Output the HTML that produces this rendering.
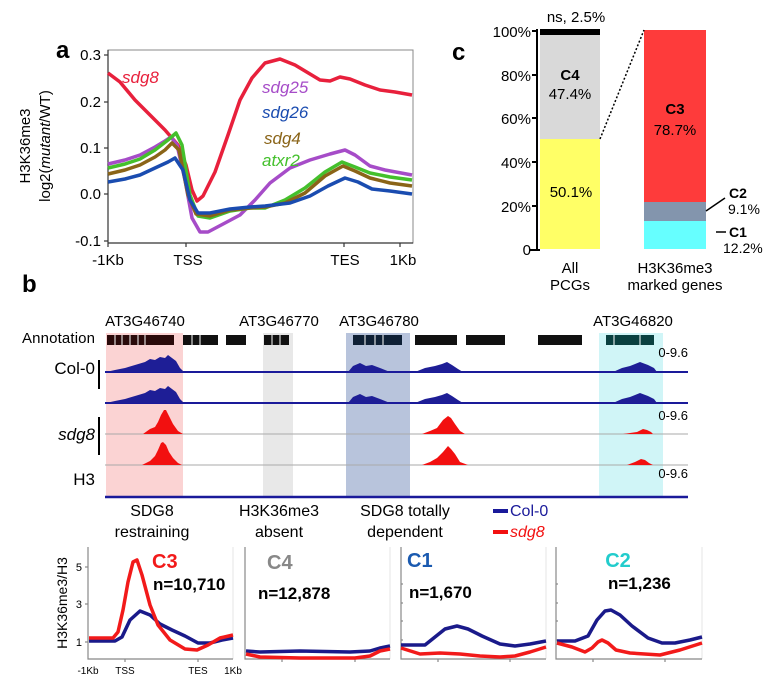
<!DOCTYPE html>
<html><head><meta charset="utf-8"><style>
html,body{margin:0;padding:0;background:#fff;}
svg{display:block;font-family:"Liberation Sans",Arial,sans-serif;}
</style></head><body>
<svg width="783" height="693" viewBox="0 0 783 693" xmlns="http://www.w3.org/2000/svg">
<rect width="783" height="693" fill="#fff"/>
<!-- Panel a -->
<text x="56" y="58" font-size="24" font-weight="bold">a</text>
<text transform="translate(30,146) rotate(-90)" font-size="15" text-anchor="middle">H3K36me3</text>
<text transform="translate(50,146) rotate(-90)" font-size="15" text-anchor="middle">log2(<tspan font-style="italic">mutant</tspan>/WT)</text>
<rect x="108" y="50" width="305" height="193" fill="none" stroke="#888" stroke-width="1"/>
<g stroke="#333" stroke-width="1.2">
<line x1="108" y1="50" x2="108" y2="243"/><line x1="108" y1="243" x2="413" y2="243"/>
<line x1="104" y1="55" x2="108" y2="55"/><line x1="104" y1="102" x2="108" y2="102"/><line x1="104" y1="148" x2="108" y2="148"/><line x1="104" y1="194" x2="108" y2="194"/><line x1="104" y1="241" x2="108" y2="241"/>
<line x1="108" y1="243" x2="108" y2="247"/><line x1="186" y1="243" x2="186" y2="247"/><line x1="344" y1="243" x2="344" y2="247"/><line x1="400" y1="243" x2="400" y2="247"/>
</g>
<g font-size="15" text-anchor="end">
<text x="101" y="60">0.3</text><text x="101" y="107">0.2</text><text x="101" y="153">0.1</text><text x="101" y="199">0.0</text><text x="101" y="246">-0.1</text>
</g>
<g font-size="15" text-anchor="middle">
<text x="108" y="265">-1Kb</text><text x="188" y="265">TSS</text><text x="345" y="265">TES</text><text x="403" y="265">1Kb</text>
</g>
<g fill="none" stroke-width="3.5" stroke-linejoin="round">
<path stroke="#e8203c" d="M108,73 L120,82 L135,100 L150,115 L165,130 L178,145 L186,165 L192,190 L197,201 L203,196 L215,172 L228,135 L240,100 L252,78 L265,63 L280,59 L295,65 L310,74 L320,80 L330,81 L340,77 L350,79 L365,85 L380,90 L395,92 L412,95"/>
<path stroke="#a64cc8" d="M108,164 L125,160 L140,155 L155,147 L165,141 L171,137 L177,145 L185,180 L192,218 L200,232 L208,232 L225,223 L240,215 L255,200 L270,183 L290,168 L310,160 L330,154 L345,150 L355,155 L370,166 L385,170 L412,175"/>
<path stroke="#44c02c" d="M108,168 L125,164 L140,159 L155,150 L168,140 L176,133 L182,145 L190,195 L198,216 L210,218 L230,211 L250,208 L265,208 L285,200 L305,188 L325,172 L342,162 L355,167 L370,173 L390,177 L412,180"/>
<path stroke="#8a6418" d="M108,174 L125,170 L140,165 L155,157 L165,150 L172,143 L179,150 L188,195 L196,214 L210,216 L230,210 L250,208 L265,207 L285,203 L305,193 L325,176 L343,166 L355,171 L370,178 L390,183 L412,186"/>
<path stroke="#1a4cb0" d="M108,182 L125,179 L140,175 L155,168 L168,162 L175,158 L183,170 L190,200 L198,213 L210,213 L230,209 L250,207 L265,206 L290,203 L310,196 L328,186 L345,178 L358,182 L372,189 L390,191 L412,194"/>
</g>
<g font-size="17" font-style="italic">
<text x="122" y="83" fill="#e8203c">sdg8</text>
<text x="262" y="93" fill="#a64cc8">sdg25</text>
<text x="262" y="118" fill="#1a4cb0">sdg26</text>
<text x="264" y="144" fill="#8a6418">sdg4</text>
<text x="262" y="166" fill="#44c02c">atxr2</text>
</g>
<!-- Panel c -->
<text x="452" y="60" font-size="24" font-weight="bold">c</text>
<rect x="540" y="139" width="60" height="110" fill="#ffff66"/>
<rect x="540" y="34" width="60" height="105" fill="#d9d9d9"/>
<rect x="540" y="29" width="60" height="6" fill="#000"/>
<rect x="644" y="221" width="62" height="28" fill="#66ffff"/>
<rect x="644" y="202" width="62" height="19" fill="#8395ad"/>
<rect x="644" y="30" width="62" height="172" fill="#fe3b3b"/>
<line x1="600" y1="139" x2="644" y2="30" stroke="#000" stroke-width="1.5" stroke-dasharray="2,2"/>
<g stroke="#000" stroke-width="2">
<line x1="537" y1="29" x2="537" y2="250"/><line x1="530" y1="250" x2="540" y2="250"/>
<line x1="532" y1="31" x2="537" y2="31"/><line x1="532" y1="75" x2="537" y2="75"/><line x1="532" y1="118" x2="537" y2="118"/><line x1="532" y1="162" x2="537" y2="162"/><line x1="532" y1="206" x2="537" y2="206"/>
<line x1="706" y1="211" x2="725" y2="198" stroke-width="1.5"/><line x1="716" y1="232" x2="726" y2="232" stroke-width="1.5"/>
</g>
<g font-size="15" text-anchor="end">
<text x="531" y="37">100%</text><text x="531" y="81">80%</text><text x="531" y="124">60%</text><text x="531" y="168">40%</text><text x="531" y="212">20%</text><text x="531" y="255">0</text>
</g>
<g font-size="15" text-anchor="middle">
<text x="576" y="22">ns, 2.5%</text>
<text x="570" y="80" font-weight="bold">C4</text><text x="570" y="99">47.4%</text>
<text x="571" y="197">50.1%</text>
<text x="675" y="114" font-weight="bold">C3</text><text x="675" y="135">78.7%</text>
<text x="570" y="273">All</text><text x="570" y="290">PCGs</text>
<text x="675" y="273">H3K36me3</text><text x="675" y="290">marked genes</text>
</g>
<g font-size="14">
<text x="729" y="198" font-weight="bold">C2</text><text x="728" y="214">9.1%</text>
<text x="729" y="237" font-weight="bold">C1</text><text x="723" y="253">12.2%</text>
</g>
<!-- Panel b -->
<text x="22" y="292" font-size="24" font-weight="bold">b</text>
<rect x="106" y="333" width="77" height="164" fill="#fbd3d3"/>
<rect x="263" y="333" width="30" height="164" fill="#e8e8e8"/>
<rect x="346" y="333" width="64" height="164" fill="#b8c4dc"/>
<rect x="599" y="333" width="64" height="164" fill="#d0f5f7"/>
<g font-size="15" text-anchor="middle">
<text x="145" y="326">AT3G46740</text><text x="279" y="326">AT3G46770</text><text x="379" y="326">AT3G46780</text><text x="633" y="326">AT3G46820</text>
</g>
<text x="22" y="343" font-size="15" textLength="73">Annotation</text>
<g fill="#111">
<rect x="107" y="335" width="67" height="10" fill="#2a0a0a"/>
<rect x="183" y="335" width="35" height="10"/>
<rect x="226" y="335" width="20" height="10"/>
<rect x="264" y="335" width="25" height="10"/>
<rect x="353" y="335" width="49" height="10" fill="#0f2035"/>
<rect x="415" y="335" width="42" height="10"/>
<rect x="466" y="335" width="39" height="10"/>
<rect x="538" y="335" width="44" height="10"/>
<rect x="606" y="335" width="48" height="10" fill="#0a4040"/>
</g>
<g stroke="#fff" stroke-width="1">
<line x1="115" y1="335" x2="115" y2="345"/><line x1="122" y1="335" x2="122" y2="345"/><line x1="130" y1="335" x2="130" y2="345"/><line x1="138" y1="335" x2="138" y2="345"/><line x1="145" y1="335" x2="145" y2="345"/>
<line x1="192" y1="335" x2="192" y2="345"/><line x1="200" y1="335" x2="200" y2="345"/><line x1="272" y1="335" x2="272" y2="345"/><line x1="280" y1="335" x2="280" y2="345"/>
<line x1="365" y1="335" x2="365" y2="345"/><line x1="375" y1="335" x2="375" y2="345"/><line x1="383" y1="335" x2="383" y2="345"/>
<line x1="614" y1="335" x2="614" y2="345"/><line x1="640" y1="335" x2="640" y2="345"/>
</g>
<g font-size="17" text-anchor="end">
<text x="95" y="374">Col-0</text><text x="95" y="440" font-style="italic">sdg8</text><text x="95" y="485">H3</text>
</g>
<line x1="99" y1="360" x2="99" y2="389" stroke="#000" stroke-width="2"/>
<line x1="99" y1="417" x2="99" y2="455" stroke="#000" stroke-width="2"/>
<g font-size="13" text-anchor="end"><text x="688" y="357">0-9.6</text><text x="688" y="420">0-9.6</text><text x="688" y="478">0-9.6</text></g>
<g id="col">
<line x1="105" y1="372" x2="688" y2="372" stroke="#1a1a9a" stroke-width="2"/>
<g fill="#1e1e96">
<polygon points="106,372 115,370 125,368 135,365 145,362 150,359 155,360 160,357 165,358 168,355 172,358 176,361 180,368 184,372"/>
<polygon points="348,372 353,366 360,363 366,366 372,365 380,368 390,372"/>
<polygon points="415,372 425,368 435,366 442,364 447,362 452,365 458,369 463,372"/>
<polygon points="613,372 622,368 630,366 640,362 648,365 654,368 657,372"/>
</g>
</g>
<use href="#col" transform="translate(0,31)"/>
<line x1="105" y1="434" x2="688" y2="434" stroke="#aaa" stroke-width="1"/>
<line x1="105" y1="465" x2="688" y2="465" stroke="#aaa" stroke-width="1"/>
<g fill="#f21010">
<polygon points="143,434 150,429 155,427 158,422 161,415 164,410 166,410 169,416 173,424 178,431 183,434"/>
<polygon points="422,434 430,431 437,428 443,420 448,416 451,418 455,424 460,431 465,434"/>
<polygon points="623,434 630,433 637,432 643,429 647,430 651,432 653,434"/>
<polygon points="142,465 150,461 155,456 158,450 161,443 163,442 166,445 169,452 173,458 178,463 182,465"/>
<polygon points="422,465 430,462 437,458 443,452 448,446 451,449 455,454 460,462 468,465"/>
<polygon points="627,465 635,462 641,459 645,460 649,463 653,465"/>
</g>
<line x1="105" y1="497" x2="688" y2="497" stroke="#1a1a9a" stroke-width="2.5"/>
<g font-size="16" text-anchor="middle">
<text x="152" y="516">SDG8</text><text x="152" y="537">restraining</text>
<text x="279" y="516">H3K36me3</text><text x="279" y="537">absent</text>
<text x="405" y="516">SDG8 totally</text><text x="405" y="537">dependent</text>
</g>
<line x1="493" y1="511" x2="508" y2="511" stroke="#1a1a9a" stroke-width="4"/>
<text x="510" y="516" font-size="16" fill="#1a1a9a">Col-0</text>
<line x1="493" y1="532" x2="508" y2="532" stroke="#f21010" stroke-width="4"/>
<text x="510" y="537" font-size="16" fill="#f21010" font-style="italic">sdg8</text>
<!-- bottom panels -->
<text transform="translate(67,603) rotate(-90)" font-size="14" text-anchor="middle">H3K36me3/H3</text>
<g stroke="#e4e4e4" stroke-width="1" fill="none">
<line x1="233" y1="547" x2="233" y2="659"/><line x1="390" y1="547" x2="390" y2="659"/><line x1="546" y1="547" x2="546" y2="659"/><line x1="702" y1="547" x2="702" y2="659"/>
</g>
<g stroke="#888" stroke-width="1.2" fill="none">
<path d="M88,547 V659 H233"/><path d="M245,547 V659 H390"/><path d="M401,547 V659 H546"/><path d="M556,547 V659 H702"/>
<line x1="85" y1="567" x2="88" y2="567"/><line x1="85" y1="604" x2="88" y2="604"/><line x1="85" y1="642" x2="88" y2="642"/>
<line x1="401" y1="584" x2="403" y2="584"/><line x1="401" y1="603" x2="403" y2="603"/><line x1="401" y1="621" x2="403" y2="621"/><line x1="401" y1="640" x2="403" y2="640"/>
<line x1="556" y1="584" x2="558" y2="584"/><line x1="556" y1="603" x2="558" y2="603"/><line x1="556" y1="621" x2="558" y2="621"/><line x1="556" y1="640" x2="558" y2="640"/>
<line x1="125" y1="659" x2="125" y2="662"/><line x1="198" y1="659" x2="198" y2="662"/>
<line x1="282" y1="659" x2="282" y2="662"/><line x1="355" y1="659" x2="355" y2="662"/>
<line x1="438" y1="659" x2="438" y2="662"/><line x1="510" y1="659" x2="510" y2="662"/>
<line x1="593" y1="659" x2="593" y2="662"/><line x1="665" y1="659" x2="665" y2="662"/>
</g>
<g font-size="11" text-anchor="end"><text x="82" y="571">5</text><text x="82" y="608">3</text><text x="82" y="646">1</text></g>
<g font-size="10" text-anchor="middle"><text x="88" y="674">-1Kb</text><text x="125" y="674">TSS</text><text x="198" y="674">TES</text><text x="233" y="674">1Kb</text></g>
<g fill="none" stroke-width="3.5" stroke-linejoin="round">
<path stroke="#1a1a8a" d="M89,641 L115,641 L122,637 L130,620 L140,611 L150,615 L160,624 L172,630 L185,636 L198,643 L210,643 L222,640 L233,638"/>
<path stroke="#f21a1a" d="M89,638 L113,638 L118,632 L123,610 L128,582 L133,562 L137,560 L142,575 L150,605 L158,625 L170,640 L185,649 L197,650 L208,645 L220,638 L233,635"/>
<path stroke="#1a1a8a" d="M246,651 L260,652 L300,651 L350,652 L370,651 L380,648 L390,646"/>
<path stroke="#f21a1a" d="M246,654 L260,657 L300,658 L355,658 L370,656 L380,651 L390,649"/>
<path stroke="#1a1a8a" d="M401,645 L425,645 L435,637 L445,629 L457,626 L468,629 L482,636 L500,644 L515,646 L530,644 L546,641"/>
<path stroke="#f21a1a" d="M401,648 L420,654 L440,653 L460,654 L480,656 L500,657 L515,656 L530,652 L546,647"/>
<path stroke="#1a1a8a" d="M557,641 L575,641 L588,636 L597,620 L605,611 L611,610 L620,615 L632,626 L648,638 L662,643 L675,643 L690,640 L702,637"/>
<path stroke="#f21a1a" d="M557,643 L572,647 L585,652 L592,648 L598,642 L602,640 L608,643 L616,650 L630,653 L660,655 L680,650 L702,643"/>
</g>
<g font-weight="bold">
<text x="152" y="568" font-size="20" fill="#f21a1a">C3</text>
<text x="153" y="590" font-size="17">n=10,710</text>
<text x="267" y="569" font-size="20" fill="#888">C4</text>
<text x="258" y="599" font-size="17">n=12,878</text>
<text x="407" y="567" font-size="20" fill="#1a5ab0">C1</text>
<text x="409" y="598" font-size="17">n=1,670</text>
<text x="618" y="567" font-size="20" fill="#22cccc" text-anchor="middle">C2</text>
<text x="608" y="589" font-size="17">n=1,236</text>
</g>
</svg>
</body></html>
